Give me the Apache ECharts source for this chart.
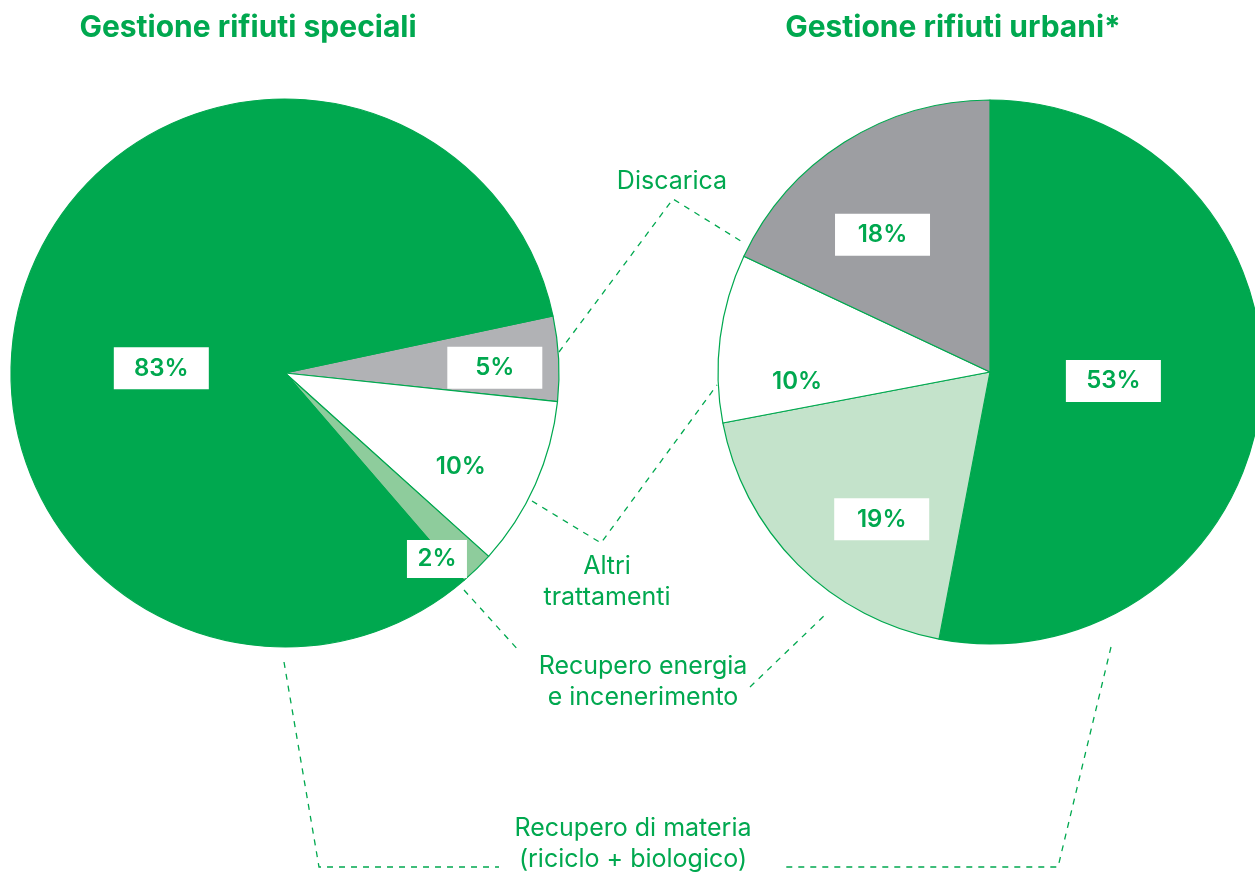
<!DOCTYPE html>
<html>
<head>
<meta charset="utf-8">
<script src="https://cdn.jsdelivr.net/npm/echarts@6/dist/echarts.min.js"></script>
<style>
  html, body { margin: 0; padding: 0; background: #ffffff; }
  #chart { width: 1255px; height: 874px; }
</style>
</head>
<body>
<div id="chart"></div>
<script>
// Waste management breakdown, percent of total
const specialiNames  = ['Discarica', 'Altri trattamenti', 'Recupero energia e incenerimento', 'Recupero di materia'];
const specialiValues = [5, 10, 2, 83];

const urbaniNames  = ['Recupero di materia', 'Recupero energia e incenerimento', 'Altri trattamenti', 'Discarica'];
const urbaniValues = [53, 19, 10, 18];

const titles = ['Gestione rifiuti speciali', 'Gestione rifiuti urbani*'];

// ---- styling ----
const GREEN = '#00a84f';
const FONT = 'Inter, Roboto, "Liberation Sans", sans-serif';

const specialiColors = ['#b1b2b5', '#ffffff', '#8ecc9c', GREEN];
const urbaniColors   = [GREEN, '#c4e3cb', '#ffffff', '#9d9ea2'];

// label look + nudge away from the default mid-radius anchor
const specialiLabelLook = [
  { tag: 'box',   offset: [70, 2] },
  { tag: 'plain', offset: [48, 37] },
  { tag: 'small', offset: [54, 86] },
  { tag: 'box',   offset: [9, 40] }
];
const urbaniLabelLook = [
  { tag: 'box',   offset: [-15, -4] },
  { tag: 'box',   offset: [-10, 49] },
  { tag: 'plain', offset: [-55, 27] },
  { tag: 'box',   offset: [-33, -20] }
];

const labelRich = {
  box:   { width: 95, height: 42, lineHeight: 42, align: 'center', backgroundColor: '#ffffff',
           color: GREEN, fontSize: 24, fontWeight: 600, fontFamily: FONT },
  small: { width: 60, height: 38, lineHeight: 38, align: 'center', backgroundColor: '#ffffff',
           color: GREEN, fontSize: 24, fontWeight: 600, fontFamily: FONT },
  plain: { color: GREEN, fontSize: 24, fontWeight: 600, fontFamily: FONT }
};

function buildData(names, values, colors, looks) {
  return names.map((n, i) => ({
    name: n,
    value: values[i],
    itemStyle: { color: colors[i] },
    label: {
      offset: looks[i].offset,
      formatter: '{' + looks[i].tag + '|{c}%}'
    }
  }));
}

function pieSeries(center, radius, startAngle, data) {
  return {
    type: 'pie',
    center: center,
    radius: radius,
    startAngle: startAngle,
    clockwise: true,
    avoidLabelOverlap: false,
    silent: true,
    animation: false,
    itemStyle: { borderColor: GREEN, borderWidth: 1.2 },
    label: { show: true, position: 'inside', rich: labelRich },
    labelLine: { show: false },
    emphasis: { disabled: true },
    data: data
  };
}

const dash = { stroke: GREEN, lineWidth: 1.3, lineDash: [6, 6], fill: null };
function leader(points) {
  return { type: 'polyline', shape: { points: points }, style: dash, silent: true };
}
function note(x, y, text, size, weight) {
  return {
    type: 'text', x: x, y: y, silent: true,
    style: { text: text, fill: GREEN, font: (weight || 'normal') + ' ' + (size || 25) + 'px ' + FONT,
             align: 'center', verticalAlign: 'middle', lineHeight: 31 }
  };
}

const chart = echarts.init(document.getElementById('chart'), null, { renderer: 'canvas' });
chart.setOption({
  backgroundColor: '#ffffff',
  series: [
    pieSeries([285, 373], 274, 12, buildData(specialiNames, specialiValues, specialiColors, specialiLabelLook)),
    pieSeries([990, 372], 272, 90, buildData(urbaniNames, urbaniValues, urbaniColors, urbaniLabelLook))
  ],
  graphic: [
    note(248, 28, titles[0], 30, 'bold'),
    note(953, 28, titles[1], 30, 'bold'),

    // Discarica
    leader([[559, 352], [673, 199], [744, 243]]),
    note(672, 181, 'Discarica'),

    // Altri trattamenti
    leader([[532, 501], [601, 543], [717, 385]]),
    note(607, 582, 'Altri\ntrattamenti'),

    // Recupero energia e incenerimento
    leader([[464, 590], [520, 652]]),
    leader([[750, 687], [826, 614]]),
    note(643, 682, 'Recupero energia\ne incenerimento'),

    // Recupero di materia
    leader([[284, 662], [319, 867], [499, 867]]),
    leader([[1111, 647], [1058, 867], [781, 867]]),
    note(633, 844, 'Recupero di materia\n(riciclo + biologico)')
  ]
});
</script>
</body>
</html>
